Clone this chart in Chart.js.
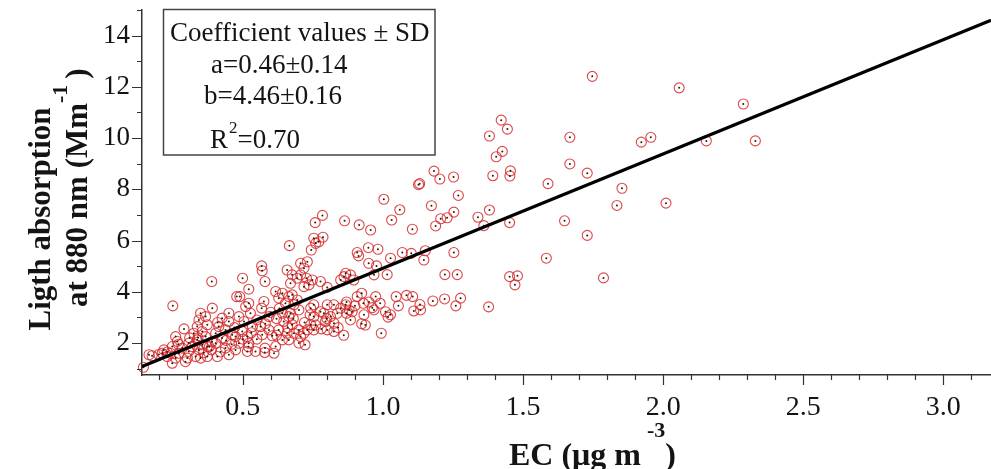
<!DOCTYPE html>
<html>
<head>
<meta charset="utf-8">
<title>Light absorption at 880 nm vs EC</title>
<script src="https://cdn.jsdelivr.net/npm/chart.js@4.4.0/dist/chart.umd.min.js"></script>
<style>
  html, body { margin: 0; padding: 0; background: #fff; }
  #wrap { width: 991px; height: 469px; }
</style>
</head>
<body>
<div id="wrap"><canvas id="chart-abs" width="991" height="469"></canvas></div>
<script>
// ===== values (EC in ug m-3, absorption in Mm-1) =====

// sparse points, upper right
var ecA = [1.747, 2.057, 2.286, 1.422, 1.444, 1.380, 1.667, 1.922, 1.956, 2.154,
           2.329, 1.426, 1.404, 1.392, 1.455, 1.453, 1.589, 1.667, 1.729, 1.853,
           1.835, 2.010, 1.380, 1.452, 1.648, 1.729, 1.583, 1.452, 1.480, 1.471,
           1.787, 1.377, 1.182, 1.203, 1.252, 1.127, 1.131, 1.269, 1.003, 1.060,
           1.173, 1.031, 1.105, 1.188, 1.206, 1.229, 1.253, 1.339, 1.360];
var absA = [12.41, 11.96, 11.33, 10.70, 10.35, 10.08, 10.03, 9.84, 10.03, 9.89,
            9.89, 9.48, 9.27, 8.53, 8.72, 8.52, 8.22, 8.99, 8.63, 8.04,
            7.37, 7.46, 7.19, 6.70, 6.77, 6.20, 5.31, 4.59, 4.62, 4.27,
            4.54, 3.41, 8.71, 8.40, 8.48, 8.18, 8.22, 7.76, 7.61, 7.20,
            7.36, 6.80, 6.44, 6.57, 6.85, 6.89, 7.11, 6.91, 6.58];

// middle band, EC 0.65 - 1.3
var ecB = [0.784, 0.758, 0.863, 0.915, 0.956, 0.666, 0.744, 0.760, 0.771, 0.786,
           0.753, 0.908, 0.913, 0.948, 0.982, 0.949, 0.977, 1.027, 1.069, 1.101,
           1.151, 1.146, 1.253, 0.968, 1.015, 1.221, 1.265, 0.718, 0.706, 0.727,
           0.694, 0.748, 0.777, 0.736, 0.718, 0.670, 0.706, 0.730, 0.861, 0.884,
           0.867, 0.849, 0.896, 0.801, 0.924, 0.974, 1.047, 1.084, 1.106, 1.055,
           1.132, 1.110, 1.178, 1.220, 1.260, 1.277, 0.962, 1.009, 1.027, 0.994,
           0.932, 0.924, 0.937, 0.849, 0.867, 0.879, 0.890, 0.870, 0.884, 0.825,
           0.801, 0.789, 0.813, 0.795, 0.825, 0.801, 0.825, 0.837, 0.753, 0.742,
           0.777, 0.753, 0.742, 0.730, 0.718, 0.722, 0.682, 0.670, 0.694, 0.676,
           0.908, 1.018, 1.134, 0.968];
var absB = [6.98, 6.70, 6.77, 6.61, 6.41, 5.80, 5.63, 5.89, 5.95, 6.13,
            6.09, 5.53, 5.40, 5.72, 5.66, 5.11, 5.01, 5.31, 5.53, 5.50,
            5.60, 5.24, 5.53, 4.66, 4.67, 4.67, 4.67, 4.92, 4.66, 4.53,
            4.53, 4.46, 4.40, 4.27, 4.20, 4.33, 5.11, 5.17, 4.59, 4.66,
            4.72, 4.46, 4.46, 4.17, 3.94, 3.81, 3.81, 3.86, 3.81, 3.45,
            3.50, 3.25, 3.64, 3.72, 3.45, 3.75, 3.38, 3.22, 3.10, 2.38,
            3.10, 2.75, 2.70, 3.36, 3.49, 3.29, 3.22, 3.16, 2.90, 3.49,
            3.49, 3.16, 3.03, 2.84, 2.77, 2.51, 2.45, 3.16, 3.49, 3.36,
            3.22, 3.03, 2.71, 2.51, 2.38, 1.93, 2.38, 3.16, 3.68, 3.88,
            3.81, 3.01, 3.29, 3.29];

// dense cluster, lower left
var ecC = [0.250, 0.389, 0.499, 0.521, 0.579, 0.567, 0.569, 0.658, 0.676, 0.478,
           0.489, 0.521, 0.617, 0.641, 0.664, 0.628, 0.652, 0.682, 0.700, 0.575,
           0.567, 0.593, 0.563, 0.593, 0.569, 0.605, 0.579, 0.510, 0.527, 0.486,
           0.504, 0.534, 0.498, 0.516, 0.474, 0.486, 0.521, 0.474, 0.545, 0.450,
           0.426, 0.450, 0.414, 0.438, 0.403, 0.462, 0.426, 0.403, 0.438, 0.450,
           0.409, 0.373, 0.388, 0.349, 0.367, 0.343, 0.373, 0.337, 0.355, 0.325,
           0.367, 0.337, 0.355, 0.319, 0.373, 0.343, 0.307, 0.331, 0.302, 0.391,
           0.260, 0.266, 0.248, 0.284, 0.272, 0.242, 0.260, 0.248, 0.295, 0.307,
           0.218, 0.212, 0.230, 0.165, 0.176, 0.145, 0.641, 0.664, 0.646, 0.676,
           0.628, 0.658, 0.700, 0.706, 0.641, 0.617, 0.664, 0.349, 0.516, 0.578,
           0.611, 0.753];
var absC = [3.45, 4.40, 4.53, 4.10, 4.40, 5.01, 4.82, 4.85, 4.66, 3.81,
            3.81, 3.55, 4.01, 3.94, 3.81, 3.75, 3.55, 3.49, 3.29, 3.62,
            3.36, 3.03, 2.64, 2.51, 2.32, 2.28, 1.80, 3.42, 3.16, 3.03,
            2.84, 2.64, 2.45, 2.25, 2.25, 1.99, 1.99, 1.73, 1.67, 3.16,
            2.97, 2.84, 2.64, 2.51, 2.38, 2.32, 2.19, 1.99, 1.80, 1.54,
            1.47, 1.47, 1.73, 3.16, 3.03, 2.90, 2.71, 2.64, 2.45, 2.38,
            2.25, 2.12, 1.93, 1.86, 1.86, 1.73, 1.67, 1.47, 1.41, 3.36,
            2.25, 2.06, 1.86, 1.80, 1.60, 1.60, 1.41, 1.21, 1.27, 1.99,
            1.73, 1.60, 1.47, 1.54, 1.50, 1.05, 3.16, 3.03, 2.84, 2.71,
            2.51, 2.38, 2.51, 2.25, 2.12, 1.86, 2.12, 1.41, 1.67, 1.63,
            1.60, 2.51];

// overlapping circles hidden inside the cluster
var ecD = [0.29, 0.31, 0.33, 0.36, 0.39, 0.41, 0.44, 0.46, 0.47, 0.50,
           0.53, 0.55, 0.58, 0.60, 0.62, 0.63, 0.66, 0.68, 0.70, 0.72,
           0.74, 0.76, 0.78, 0.80, 0.84, 0.86, 0.87, 0.90, 0.93, 0.95,
           0.99, 0.38, 0.34, 0.27, 0.23, 0.20, 0.42, 0.52, 0.55, 0.62];
var absD = [2.55, 2.20, 1.95, 1.62, 2.05, 2.80, 2.10, 1.95, 2.60, 2.15,
            2.40, 2.90, 2.75, 3.20, 2.95, 3.35, 2.60, 2.95, 2.00, 2.80,
            3.10, 2.70, 2.55, 2.95, 2.60, 2.30, 3.60, 3.45, 3.55, 3.60,
            3.55, 1.85, 2.20, 1.95, 1.65, 1.55, 1.65, 1.85, 2.15, 2.30];

// regression line end points (y = a + b*x)
var fitEc = [0.14, 3.17];
var fitAbs = [1.08, 14.6];

// axis ticks
var xTicks = [0.2, 0.3, 0.4, 0.5, 0.6, 0.7, 0.8, 0.9, 1.0, 1.1, 1.2, 1.3, 1.4, 1.5, 1.6,
              1.7, 1.8, 1.9, 2.0, 2.1, 2.2, 2.3, 2.4, 2.5, 2.6, 2.7, 2.8, 2.9, 3.0, 3.1];
var xTickLabels = ['0.5', '1.0', '1.5', '2.0', '2.5', '3.0'];
var yTicks = [1, 2, 3, 4, 5, 6, 7, 8, 9, 10, 11, 12, 13, 14, 15];
var yTickLabels = ['2', '4', '6', '8', '10', '12', '14'];

// coefficient box
var boxLines = ['Coefficient values \u00b1 SD', 'a=0.46\u00b10.14', 'b=4.46\u00b10.16'];
var rSquared = '0.70';

(function() {
  "use strict";

  var SERIF = '"Liberation Serif", "Times New Roman", serif';
  var INK = '#141414';

  function toPoints(xs, ys) {
    return xs.map(function(x, i) { return { x: x, y: ys[i] }; });
  }

  var pts = toPoints(ecA.concat(ecB, ecC, ecD), absA.concat(absB, absC, absD));
  var fitPts = toPoints(fitEc, fitAbs);

  /** draws text pieces one after another along the baseline */
  function drawRun(ctx, parts, x, y) {
    var cx = x;
    parts.forEach(function(p) {
      cx += p.gap || 0;
      ctx.font = p.font;
      ctx.fillText(p.t, cx, y + (p.dy || 0));
      cx += ctx.measureText(p.t).width;
    });
  }

  // scales reserve room for end labels; the figure has none there
  function noEndPadding(axis) {
    axis.paddingTop = 0;
    axis.paddingBottom = 0;
    axis.paddingLeft = 0;
    axis.paddingRight = 0;
  }

  var decor = {
    id: 'decor',
    afterDraw: function(chart) {
      var ctx = chart.ctx;
      var xs = chart.scales.x, ys = chart.scales.y;
      var area = chart.chartArea;

      // tick marks (major longer than minor)
      ctx.save();
      ctx.strokeStyle = '#333';
      ctx.lineWidth = 1.2;
      ctx.beginPath();
      xs.ticks.forEach(function(t) {
        var px = Math.round(xs.getPixelForValue(t.value)) + 0.5;
        var len = t.label !== '' ? 10 : 5;
        ctx.moveTo(px, area.bottom);
        ctx.lineTo(px, area.bottom + len);
      });
      ys.ticks.forEach(function(t) {
        var py = Math.round(ys.getPixelForValue(t.value)) + 0.5;
        var len = t.label !== '' ? 10 : 5;
        ctx.moveTo(area.left, py);
        ctx.lineTo(area.left - len, py);
      });
      ctx.stroke();
      ctx.restore();

      ctx.save();
      ctx.fillStyle = INK;
      ctx.textBaseline = 'alphabetic';
      ctx.textAlign = 'left';

      // x title
      drawRun(ctx, [
        { t: 'EC (\u03bcg m', font: 'bold 32px ' + SERIF },
        { t: '-3', font: 'bold 22px ' + SERIF, dy: -28, gap: 6 },
        { t: ')', font: 'bold 32px ' + SERIF, gap: 0 }
      ], 509, 465);

      // y title, two rotated lines
      ctx.save();
      ctx.translate(50, 219);
      ctx.rotate(-Math.PI / 2);
      ctx.font = 'bold 31px ' + SERIF;
      ctx.textAlign = 'center';
      ctx.fillText('Ligth absorption', 0, 0);
      ctx.restore();

      ctx.save();
      ctx.translate(87, 307);
      ctx.rotate(-Math.PI / 2);
      drawRun(ctx, [
        { t: 'at 880 nm (Mm', font: 'bold 31px ' + SERIF },
        { t: '-1', font: 'bold 22px ' + SERIF, dy: -20, gap: 0 },
        { t: ')', font: 'bold 31px ' + SERIF, gap: 6 }
      ], 0, 0);
      ctx.restore();

      // coefficient box
      ctx.strokeStyle = '#444';
      ctx.lineWidth = 1.5;
      ctx.strokeRect(163.5, 9.5, 271.5, 145.5);
      ctx.font = '27px ' + SERIF;
      ctx.fillText(boxLines[0], 170, 41);
      ctx.fillText(boxLines[1], 211, 73);
      ctx.fillText(boxLines[2], 204, 104);
      drawRun(ctx, [
        { t: 'R', font: '27px ' + SERIF },
        { t: '2', font: '17px ' + SERIF, dy: -15, gap: 1 },
        { t: '=' + rSquared, font: '27px ' + SERIF, gap: 0 }
      ], 210, 148);
      ctx.restore();
    }
  };

  var ctx = document.getElementById('chart-abs');
  new Chart(ctx, {
    type: 'scatter',
    data: {
      datasets: [{
        type: 'line',
        data: fitPts,
        borderColor: '#000',
        borderWidth: 3.2,
        pointRadius: 0,
        tension: 0,
        order: 0
      }, {
        data: pts,
        pointRadius: 5,
        pointHoverRadius: 5,
        pointBackgroundColor: 'rgba(255,255,255,0)',
        pointBorderColor: 'rgba(214,40,40,0.85)',
        pointBorderWidth: 1.1,
        clip: 8,
        order: 2
      }, {
        data: pts,
        pointRadius: 1,
        pointHoverRadius: 1,
        pointBackgroundColor: '#3a1414',
        pointBorderWidth: 0,
        clip: 8,
        order: 1
      }]
    },
    options: {
      responsive: false,
      devicePixelRatio: 1,
      animation: false,
      layout: { autoPadding: false, padding: { top: 10, right: 0, bottom: 0, left: 0 } },
      plugins: {
        legend: { display: false },
        tooltip: { enabled: false }
      },
      scales: {
        x: {
          type: 'linear',
          min: 0.14,
          max: 3.17,
          grid: { display: false, drawTicks: false },
          border: { display: true, color: '#333', width: 1.5 },
          afterBuildTicks: function(axis) {
            axis.ticks = xTicks.map(function(v) { return { value: v }; });
          },
          afterFit: function(axis) {
            axis.height = 94;
            noEndPadding(axis);
          },
          ticks: {
            autoSkip: false,
            maxRotation: 0,
            minRotation: 0,
            padding: 16,
            color: INK,
            font: { family: SERIF, size: 28 },
            callback: function(v) {
              var s = Number(v).toFixed(1);
              return xTickLabels.indexOf(s) >= 0 ? s : '';
            }
          }
        },
        y: {
          type: 'linear',
          min: 0.75,
          max: 15,
          grid: { display: false, drawTicks: false },
          border: { display: true, color: '#333', width: 1.5 },
          afterBuildTicks: function(axis) {
            axis.ticks = yTicks.map(function(v) { return { value: v }; });
          },
          afterFit: function(axis) {
            axis.width = 142;
            noEndPadding(axis);
          },
          ticks: {
            autoSkip: false,
            padding: 12,
            color: INK,
            font: { family: SERIF, size: 27 },
            callback: function(v) {
              var s = String(v);
              return yTickLabels.indexOf(s) >= 0 ? s : '';
            }
          }
        }
      }
    },
    plugins: [decor]
  });
})();
</script>
</body>
</html>
